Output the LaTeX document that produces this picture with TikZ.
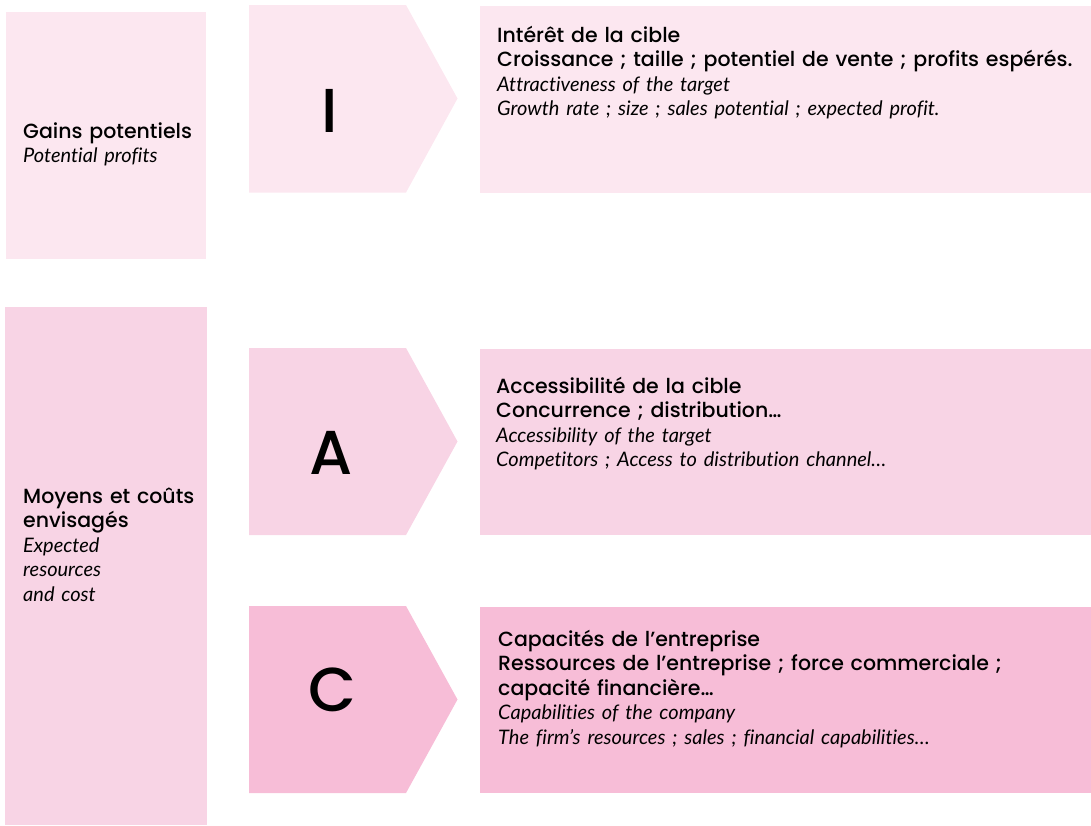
\documentclass[tikz,border=0pt]{standalone}
\usepackage{fontspec}
\setmainfont{Poppins}[UprightFont={* Medium}]
\newfontfamily\enfont{Lato}[Ligatures=NoCommon]
\usetikzlibrary{positioning}
\definecolor{pinklight}{HTML}{FCE7F0}
\definecolor{pinkmid}{HTML}{F8D4E5}
\definecolor{pinkdeep}{HTML}{F7BDD7}
\newcommand{\engl}{\enfont\itshape\fontsize{20}{24.5}\selectfont}

\tikzset{
  panel/.style={fill=#1,draw=none,anchor=north west,inner sep=0pt,outer sep=0pt},
  boxtext/.style={anchor=base west,inner sep=0pt,text width=#1,align=left,font=\fontsize{20.5}{24.5}\selectfont},
  lettre/.style={anchor=base,inner sep=0pt,font=\fontsize{62}{62}\selectfont}
}

\begin{document}
\begin{tikzpicture}[x=1pt,y=-1pt]
\useasboundingbox (0,0) rectangle (1091,825);

% left column
\node[panel=pinklight,minimum width=200,minimum height=247] (gainsbox) at (6,12) {};
\node[panel=pinkmid,minimum width=202,minimum height=518] (moyensbox) at (5,307) {};
\node[boxtext=180] (gains) at (23,138) {Gains potentiels\\{\engl Potential profits}};
\node[boxtext=180] (moyens) at (23,503) {Moyens et coûts\\envisagés\\{\engl Expected}\\{\engl resources}\\{\engl and cost}};

% chevrons
\fill[pinklight] (249,5) -- (406,5) -- (457.5,98.5) -- (406,192.5) -- (249,192.5) -- cycle;
\fill[pinkmid] (249,348) -- (406,348) -- (457.5,441.5) -- (406,535) -- (249,535) -- cycle;
\fill[pinkdeep] (249,606) -- (406,606) -- (457.5,699.5) -- (406,793) -- (249,793) -- cycle;
\node[lettre] (lettreI) at (330,132) {I};
\node[lettre] (lettreA) at (331,474) {A};
\node[lettre] (lettreC) at (332.5,711) {C};

% right column
\node[panel=pinklight,minimum width=611,minimum height=186.5] (interetbox) at (480,6) {};
\node[panel=pinkmid,minimum width=611,minimum height=186] (accesbox) at (480,349) {};
\node[panel=pinkdeep,minimum width=611,minimum height=186] (capabox) at (480,607) {};

\node[boxtext=590] (interet) at (497,42) {Intérêt de la cible\\Croissance ; taille ; potentiel de vente ; profits espérés.\\{\engl Attractiveness of the target}\\{\engl Growth rate ; size ; sales potential ; expected profit.}};
\node[boxtext=590] (acces) at (496,393) {Accessibilité de la cible\\Concurrence ; distribution…\\{\engl Accessibility of the target}\\{\engl Competitors ; Access to distribution channel…}};
\node[boxtext=590] (capa) at (498,646) {Capacités de l’entreprise\\\makebox[532pt][s]{Ressources de l’entreprise ; force commerciale ;}\\capacité financière…\\{\engl Capabilities of the company}\\{\engl The firm’s resources ; sales ; financial capabilities…}};
\end{tikzpicture}
\end{document}
